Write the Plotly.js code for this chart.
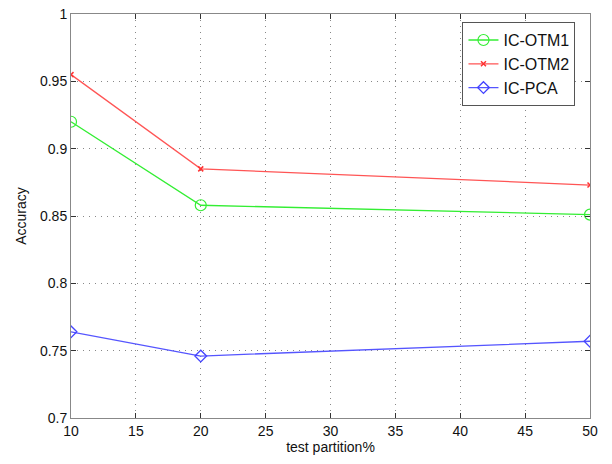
<!DOCTYPE html>
<html><head><meta charset="utf-8">
<script src="https://cdn.plot.ly/plotly-3.0.1.min.js"></script>
<style>body{margin:0;background:#fff}#c{width:612px;height:464px}</style>
</head><body><div id="c"></div>
<script>
const xVals = [10, 20, 50];
const otm1 = [0.920, 0.858, 0.851];
const otm2 = [0.955, 0.885, 0.873];
const pca = [0.764, 0.746, 0.757];
const xTicks = [10, 15, 20, 25, 30, 35, 40, 45, 50];
const yTicks = [0.7, 0.75, 0.8, 0.85, 0.9, 0.95, 1];
const yTickText = ['0.7', '0.75', '0.8', '0.85', '0.9', '0.95', '1'];

const traces = [
  {x: xVals, y: otm1, name: 'IC-OTM1', mode: 'lines+markers',
   line: {color: '#33ee33', width: 1.3},
   marker: {symbol: 'circle-open', size: 11, color: '#33ee33', line: {width: 1.2}}},
  {x: xVals, y: otm2, name: 'IC-OTM2', mode: 'lines+markers',
   line: {color: '#ff5555', width: 1.3},
   marker: {symbol: 'x-thin-open', size: 5, color: '#ff3333', line: {width: 1.5, color: '#ff3333'}}},
  {x: xVals, y: pca, name: 'IC-PCA', mode: 'lines+markers',
   line: {color: '#5555ff', width: 1.3},
   marker: {symbol: 'diamond-open', size: 9, color: '#4444ff', line: {width: 1.3}}}
];

const layout = {
  width: 612, height: 464,
  margin: {l: 71, r: 22, t: 14, b: 46},
  paper_bgcolor: '#fff', plot_bgcolor: '#fff',
  font: {family: 'Liberation Sans, Arial, sans-serif', size: 14, color: '#111'},
  showlegend: true,
  legend: {x: 0.972, y: 0.98, xanchor: 'right', yanchor: 'top',
    bordercolor: '#555', borderwidth: 1, bgcolor: '#fff',
    font: {size: 16}, tracegroupgap: 0},
  xaxis: {range: [10, 50], tickvals: xTicks, ticktext: xTicks.map(String),
    showgrid: true, gridcolor: '#888', griddash: '1px,5px', gridwidth: 1,
    zeroline: false, showline: true, linecolor: '#888', linewidth: 1, mirror: 'ticks',
    ticks: 'inside', ticklen: 5, tickcolor: '#333',
    title: {text: 'test partition%', font: {size: 14}, standoff: 3}},
  yaxis: {range: [0.7, 1], tickvals: yTicks, ticktext: yTickText,
    showgrid: true, gridcolor: '#888', griddash: '1px,5px', gridwidth: 1,
    zeroline: false, showline: true, linecolor: '#888', linewidth: 1, mirror: 'ticks',
    ticks: 'inside', ticklen: 5, tickcolor: '#333',
    title: {text: 'Accuracy', font: {size: 14}, standoff: 10}}
};
Plotly.newPlot('c', traces, layout, {displayModeBar: false});
</script></body></html>
